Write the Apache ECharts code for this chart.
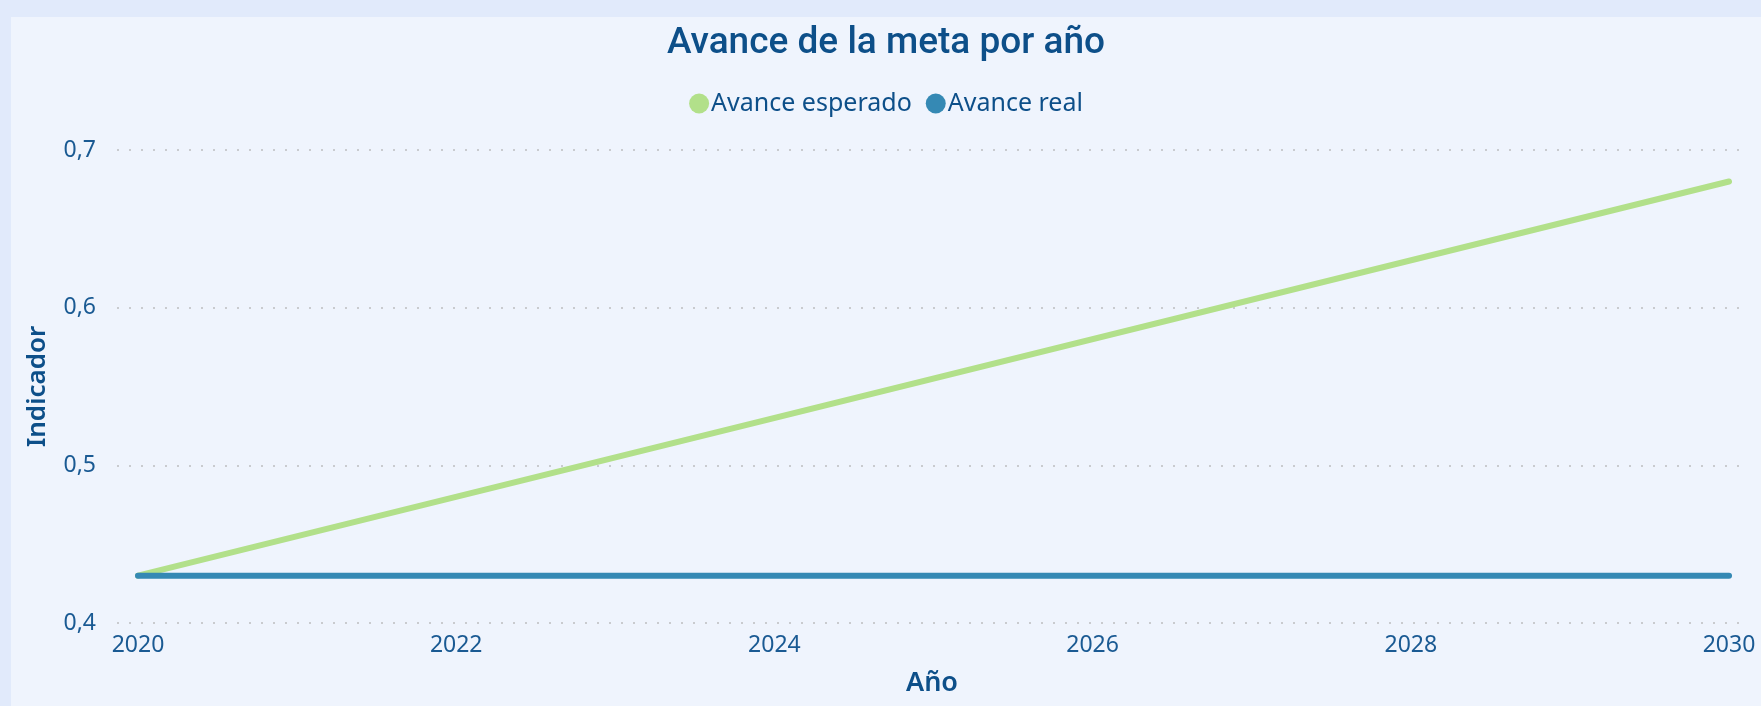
<!DOCTYPE html>
<html>
<head>
<meta charset="utf-8">
<script src="https://cdn.jsdelivr.net/npm/echarts@6/dist/echarts.min.js"></script>
<style>
  html, body { margin: 0; padding: 0; }
  body { width: 1761px; height: 706px; background: #e1eafb; position: relative; overflow: hidden; }
  #chart { position: absolute; left: 11px; top: 17px; width: 1750px; height: 689px; background: #eff4fd; }
</style>
</head>
<body>
<div id="chart"></div>
<script>
// data
const seriesNames = ['Avance esperado', 'Avance real']
const years = [2020, 2030]
const esperado = [0.43, 0.68]
const real = [0.43, 0.43]
const yearTicks = [2020, 2022, 2024, 2026, 2028, 2030]

const darkBlue = '#0d4f89'
const labelBlue = '#1a5a93'

const chart = echarts.init(document.getElementById('chart'))
chart.setOption({
  animation: false,
  title: {
    text: 'Avance de la meta por año',
    left: 'center',
    top: 3,
    textStyle: {
      fontFamily: 'Roboto',
      fontWeight: 500,
      fontSize: 37,
      color: darkBlue
    }
  },
  legend: {
    data: seriesNames,
    left: 'center',
    top: 69,
    icon: 'circle',
    itemWidth: 20,
    itemHeight: 20,
    itemGap: 14,
    textStyle: {
      fontFamily: 'Noto Sans',
      fontSize: 25,
      color: darkBlue,
      padding: [0, 0, 0, -3]
    }
  },
  grid: {
    left: 106,
    right: 14,
    top: 133,
    bottom: 83,
    containLabel: false
  },
  xAxis: {
    type: 'value',
    min: 2019.868,
    max: 2030.113,
    name: 'Año',
    nameLocation: 'middle',
    nameGap: 47,
    nameTextStyle: {
      fontFamily: 'Noto Sans',
      fontWeight: 600,
      fontSize: 27,
      color: darkBlue
    },
    axisLine: { show: false },
    axisTick: { show: false },
    splitLine: { show: false },
    axisLabel: {
      customValues: yearTicks,
      margin: 11,
      fontFamily: 'Noto Sans',
      fontSize: 23,
      color: labelBlue,
      formatter: v => String(v)
    }
  },
  yAxis: {
    type: 'value',
    min: 0.4,
    max: 0.7,
    interval: 0.1,
    name: 'Indicador',
    nameLocation: 'middle',
    nameGap: 66,
    nameTextStyle: {
      fontFamily: 'Noto Sans',
      fontWeight: 600,
      fontSize: 26,
      color: darkBlue
    },
    axisLine: { show: false },
    axisTick: { show: false },
    axisLabel: {
      margin: 21,
      fontFamily: 'Noto Sans',
      fontSize: 23,
      color: labelBlue,
      formatter: v => v.toFixed(1).replace('.', ',')
    },
    splitLine: {
      show: true,
      lineStyle: {
        color: '#c9cbcf',
        width: 2,
        type: [2, 10]
      }
    }
  },
  series: [
    {
      name: seriesNames[0],
      type: 'line',
      data: years.map((y, i) => [y, esperado[i]]),
      showSymbol: false,
      itemStyle: { color: '#b2e08a' },
      lineStyle: { width: 6, color: '#b2e08a', cap: 'round' }
    },
    {
      name: seriesNames[1],
      type: 'line',
      data: years.map((y, i) => [y, real[i]]),
      showSymbol: false,
      itemStyle: { color: '#3589b4' },
      lineStyle: { width: 6, color: '#3589b4', cap: 'round' }
    }
  ]
})
</script>
</body>
</html>
